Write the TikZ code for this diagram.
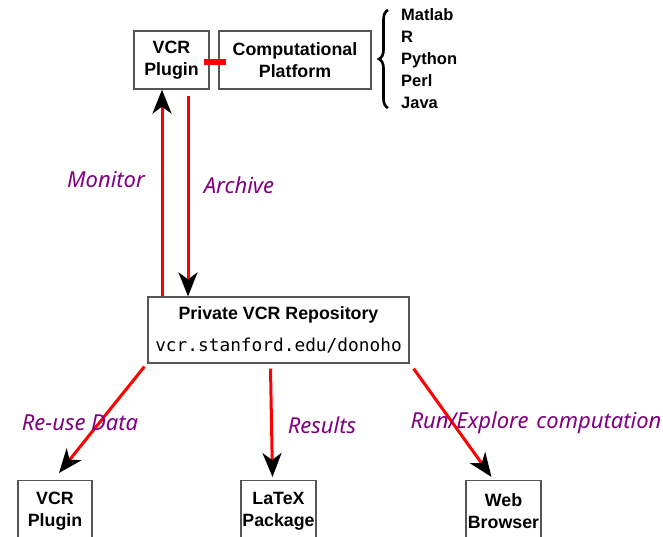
\documentclass[tikz,border=0pt]{standalone}
\usepackage{fontspec}
\setmainfont{Liberation Sans}
\setmonofont{DejaVu Sans Mono}
\newfontfamily\handfont{Noto Sans}
\usepackage{tikz}
\usetikzlibrary{positioning,arrows.meta,decorations.pathreplacing}
\definecolor{vcrred}{RGB}{255,0,0}
\definecolor{vcrpurple}{RGB}{128,0,128}
\definecolor{boxgray}{RGB}{85,85,85}

\begin{document}
\begin{tikzpicture}[x=1pt,y=-1pt,
  box/.style={draw=boxgray,line width=1.2pt,font=\fontsize{17.8}{22}\selectfont\bfseries,align=center,inner sep=0pt},
  flow/.style={vcrred,line width=3pt,-{Stealth[color=black,length=24pt,width=19pt,inset=7pt]}},
  hand/.style={vcrpurple,font=\fontsize{22}{26}\selectfont\handfont\itshape}]
\useasboundingbox (0,0) rectangle (663,536);
\clip (0,0) rectangle (663,536);

% Plugin and platform
\node[box,minimum width=75pt,minimum height=58pt] (plug) at (171.5,60) {VCR\\Plugin};
\node[box,minimum width=152pt,minimum height=58pt] (comp) at (295,60) {Computational\\Platform};
\draw[vcrred,line width=6pt] ([xshift=-6pt,yshift=-2pt]plug.east) -- ([xshift=8pt,yshift=-2pt]comp.west);

% Languages
\node[font=\fontsize{16.5}{22}\selectfont\bfseries,align=left,anchor=west,inner sep=0pt] (langs) at (401,59) {Matlab\\R\\Python\\Perl\\Java};
\coordinate (bracetop) at (388,10);
\coordinate (bracebot) at (388,108);
\draw[line width=2.6pt,decorate,decoration={brace,amplitude=9pt}] (bracebot) -- (bracetop);

% Repository
\node[box,minimum width=261pt,minimum height=66pt] (repo) at (278.5,330) {Private VCR Repository\\[10pt]{\mdseries\ttfamily vcr.stanford.edu/donoho}};

% Monitor / archive
\coordinate (uptop) at ([xshift=-9.5pt]plug.south);
\coordinate (downtop) at ([xshift=16.5pt,yshift=-6pt]plug.south);
\draw[flow] (uptop |- repo.north) -- (uptop);
\draw[flow] (downtop) -- (downtop |- repo.north);
\node[hand] (monitor) at (106,180) {Monitor};
\node[hand] (archive) at (239,185) {Archive};

% Outputs
\node[box,minimum width=74pt,minimum height=62pt,anchor=north] (bplug) at (55,480) {VCR\\Plugin};
\node[box,minimum width=75pt,minimum height=62pt,anchor=north] (latex) at (278.5,480) {LaTeX\\Package};
\node[box,minimum width=75pt,minimum height=62pt,anchor=north] (web) at (503.5,480) {Web\\Browser};
\draw[flow] ([xshift=-3pt,yshift=-3pt]repo.south west) -- ([xshift=4pt,yshift=7pt]bplug.north);
\draw[flow] ([xshift=-8pt,yshift=-5pt]repo.south) -- ([xshift=-6pt,yshift=3pt]latex.north);
\draw[flow] ([xshift=4pt,yshift=-5pt]repo.south east) -- ([xshift=-12pt,yshift=3pt]web.north);
\node[hand] (reuse) at (80,423) {Re-use Data};
\node[hand] (results) at (322,425) {Results};
\node[hand] (run) at (536,423) {Run/Explore\hspace{8pt}computation};
\end{tikzpicture}
\end{document}
